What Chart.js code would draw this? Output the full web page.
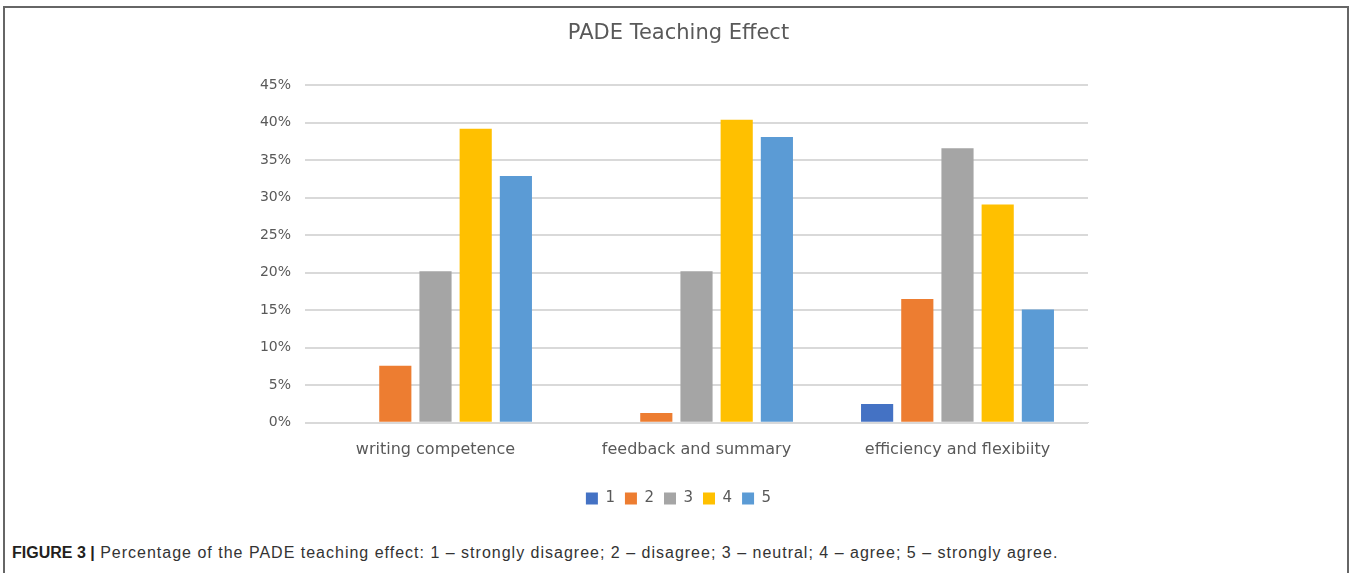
<!DOCTYPE html>
<html>
<head>
<meta charset="utf-8">
<script src="https://cdn.jsdelivr.net/npm/chart.js@4.4.1/dist/chart.umd.min.js"></script>
<style>
  html, body { margin: 0; padding: 0; background: #fff; }
  body { width: 1352px; height: 573px; position: relative; overflow: hidden; }
  #frame {
    position: absolute; left: 3px; top: 6px; width: 1346px; height: 580px;
    border: 2px solid #666; border-bottom: none; box-sizing: border-box;
  }
  #wrap { position: absolute; left: 0; top: 0; width: 1352px; height: 520px; }
  #caption {
    position: absolute; left: 12px; top: 544px;
    font-family: "Liberation Sans", Arial, sans-serif; font-size: 16px;
    color: #333; white-space: nowrap; letter-spacing: 1px;
  }
  #caption b { color: #231f20; font-size: 16px; letter-spacing: 0; }
</style>
</head>
<body>
<div id="frame"></div>
<div id="wrap"><canvas id="teachChart"></canvas></div>
<div id="caption"><b>FIGURE 3 |</b> Percentage of the PADE teaching effect: 1 – strongly disagree; 2 – disagree; 3 – neutral; 4 – agree; 5 – strongly agree.</div>
<script>
const categories = ["writing competence", "feedback and summary", "efficiency and flexibiity"];
const levels = ["1", "2", "3", "4", "5"];
const level1 = [0, 0, 2.5];
const level2 = [7.6, 1.3, 16.5];
const level3 = [20.2, 20.2, 36.6];
const level4 = [39.2, 40.4, 29.1];
const level5 = [32.9, 38.1, 15.1];
const yTicks = [0, 5, 10, 15, 20, 25, 30, 35, 40, 45];

const colors = ['#4472C4', '#ED7D31', '#A5A5A5', '#FFC000', '#5B9BD5'];
const series = [level1, level2, level3, level4, level5];
const textColor = '#595959';
const chartFont = '"DejaVu Sans", "Noto Sans", sans-serif';

// title and legend sit a little right of the plot centre in the original
const nudgeBoxes = {
    id: 'nudgeBoxes',
    afterLayout: function(chart) {
        [chart.titleBlock, chart.legend].forEach(function(box) {
            if (box) { box.left += 12; box.right += 12; }
        });
    }
};

document.addEventListener('DOMContentLoaded', function() {
    const ctx = document.getElementById('teachChart').getContext('2d');
    new Chart(ctx, {
        type: 'bar',
        data: {
            labels: categories,
            datasets: series.map(function(vals, i) {
                return {
                    label: levels[i],
                    data: vals,
                    backgroundColor: colors[i],
                    barPercentage: 0.8,
                    categoryPercentage: 0.77,
                };
            }),
        },
        plugins: [nudgeBoxes],
        options: {
            responsive: true,
            maintainAspectRatio: false,
            animation: false,
            layout: {
                padding: { left: 245, right: 264, top: 0, bottom: 4 },
            },
            scales: {
                x: {
                    grid: { display: false },
                    border: { color: '#d9d9d9', width: 1 },
                    afterFit: function(scale) { scale.height += 13; },
                    ticks: {
                        color: textColor,
                        font: { family: chartFont, size: 16 },
                        padding: 9,
                    },
                },
                y: {
                    min: 0,
                    max: 45,
                    afterBuildTicks: function(scale) {
                        scale.ticks = yTicks.map(function(v) { return { value: v }; });
                    },
                    afterFit: function(scale) { scale.width = 60; },
                    grid: { color: '#d9d9d9', lineWidth: 2, drawTicks: false },
                    border: { display: false },
                    ticks: {
                        color: textColor,
                        font: { family: chartFont, size: 14 },
                        padding: 14,
                        callback: function(value) { return value + '%'; },
                    },
                },
            },
            plugins: {
                title: {
                    display: true,
                    text: 'PADE Teaching Effect',
                    color: textColor,
                    font: { family: chartFont, size: 21, weight: 'normal' },
                    padding: { top: 21, bottom: 39 },
                },
                legend: {
                    position: 'bottom',
                    labels: {
                        color: textColor,
                        font: { family: chartFont, size: 15 },
                        boxWidth: 12,
                        boxHeight: 12,
                        padding: 10,
                    },
                },
                tooltip: { enabled: false },
            },
        },
    });
});
</script>
</body>
</html>
